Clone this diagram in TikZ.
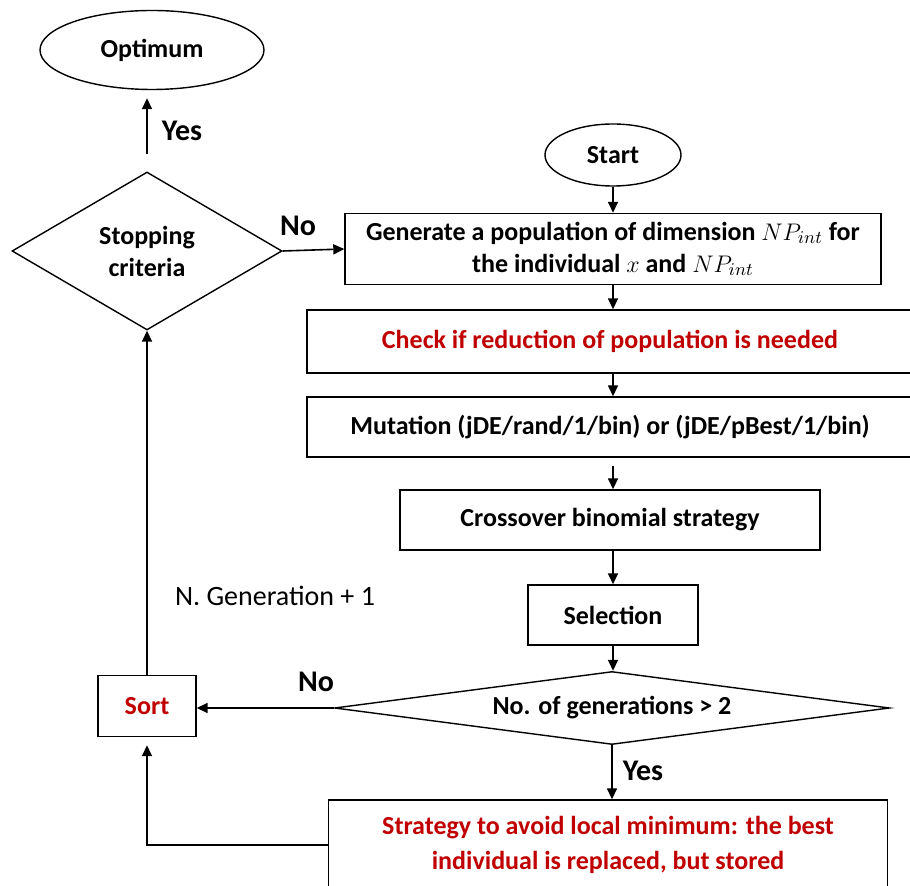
\documentclass[tikz,border=0pt]{standalone}
\usepackage{fontspec}
\setmainfont{Carlito}
\usepackage{amsmath}
\usetikzlibrary{shapes.geometric,arrows.meta}
\definecolor{darkred}{HTML}{C00000}

\begin{document}
\begin{tikzpicture}[x=0.5pt, y=-0.5pt,
    every node/.style={font=\bfseries\fontsize{13}{16}\selectfont, align=center},
    flowbox/.style={draw, rectangle, line width=0.7pt, inner sep=0pt},
    terminal/.style={draw, ellipse, line width=0.7pt, inner sep=0pt},
    decision/.style={draw, diamond, line width=0.7pt, inner sep=0pt},
    arr/.style={line width=0.8pt, -{Triangle[length=5.5pt, width=5pt]}},
    lbl/.style={font=\bfseries\fontsize{15}{17}\selectfont}]
  \clip (0, 0) rectangle (910, 886);

  % left column
  \node[terminal, minimum width=112pt, minimum height=39.5pt] (opt) at (152, 50) {Optimum};
  \node[decision, minimum width=135pt, minimum height=79pt] (stop) at (147, 251) {Stopping\\criteria};
  \node[flowbox, minimum width=49pt, minimum height=30.5pt, text=darkred] (sort) at (147, 706) {Sort};

  % right column
  \node[terminal, minimum width=68pt, minimum height=31pt] (start) at (613, 155) {Start};
  \node[flowbox, minimum width=268pt, minimum height=35.5pt] (gen) at (613, 249)
    {Generate a population of dimension $NP_{int}$ for\\the individual $x$ and $NP_{int}$};
  \node[flowbox, minimum width=303pt, minimum height=31.5pt, text=darkred] (check) at (610, 341.5)
    {Check if reduction of population is needed};
  \node[flowbox, minimum width=303pt, minimum height=30pt] (mut) at (610, 427)
    {Mutation (jDE/rand/1/bin) or (jDE/pBest/1/bin)};
  \node[flowbox, minimum width=210pt, minimum height=30pt] (cross) at (610, 520) {Crossover binomial strategy};
  \node[flowbox, minimum width=85pt, minimum height=30pt] (sel) at (613, 615) {Selection};
  \node[decision, shape aspect=7.6, minimum width=277.5pt, minimum height=36.5pt] (gens) at (612, 708)
    {No. of generations > 2};
  \node[flowbox, minimum width=279.5pt, minimum height=45pt, text=darkred, font=\bfseries\fontsize{13}{17.5}\selectfont] (strat) at (608, 845)
    {Strategy to avoid local minimum: the best\\individual is replaced, but stored};

  % connectors
  \draw[arr, shorten <=8.5pt, shorten >=4pt] (stop.north) -- (stop.north |- opt.south);
  \draw[arr] (stop.east) -- (gen.west);
  \draw[arr] (start.south) -- (start.south |- gen.north);
  \draw[arr] (gen.south) -- (gen.south |- check.north);
  \draw[arr] (gen.south |- check.south) -- (gen.south |- mut.north);
  \draw[arr, shorten <=4pt] (gen.south |- mut.south) -- (gen.south |- cross.north);
  \draw[arr] (gen.south |- cross.south) -- (gen.south |- sel.north);
  \draw[arr] (sel.south) -- (sel.south |- gens.north);
  \draw[arr] (gens.west) -- (gens.west -| sort.east);
  \draw[arr] (gens.south) -- (gens.south |- strat.north);
  \draw[arr, shorten >=4pt] (strat.west) -| (sort.south);
  \draw[arr] (sort.north) -- (stop.south);

  % labels
  \node[lbl] (yes1) at (182, 131) {Yes};
  \node[lbl] (no1) at (298, 226) {No};
  \node[lbl] (no2) at (316, 682) {No};
  \node[lbl] (yes2) at (643, 771) {Yes};
  \node[font=\fontsize{14}{16}\selectfont] (ngen) at (275, 596) {N. Generation + 1};
\end{tikzpicture}
\end{document}
